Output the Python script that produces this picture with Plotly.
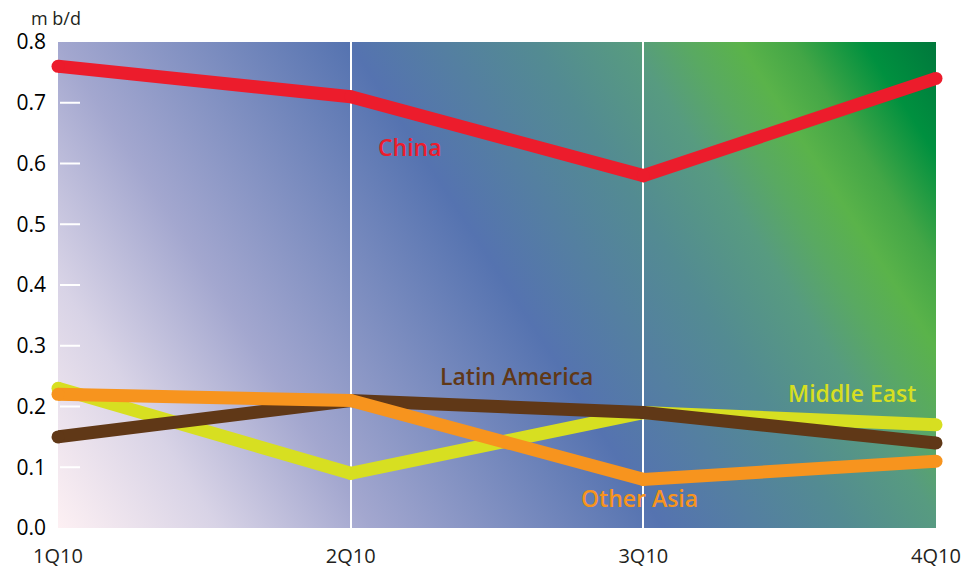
import base64
import plotly.graph_objects as go

# Quarterly volumes, million barrels per day
quarters = ["1Q10", "2Q10", "3Q10", "4Q10"]
china = [0.76, 0.71, 0.58, 0.74]
latin_america = [0.15, 0.21, 0.19, 0.14]
middle_east = [0.23, 0.09, 0.19, 0.17]
other_asia = [0.22, 0.21, 0.08, 0.11]
y_ticks = [0.0, 0.1, 0.2, 0.3, 0.4, 0.5, 0.6, 0.7, 0.8]

W, H = 878, 486  # plot area in px

# Diagonal colour wash for the plot background (pink -> blue -> green)
grad_svg = f"""<svg xmlns='http://www.w3.org/2000/svg' width='{W}' height='{H}' viewBox='0 0 {W} {H}' preserveAspectRatio='none'>
<defs><linearGradient id='g' gradientUnits='userSpaceOnUse' x1='-221' y1='142.5' x2='619' y2='-399.5'>
<stop offset='0' stop-color='#fdf0f3'/>
<stop offset='0.134' stop-color='#d8d3e6'/>
<stop offset='0.263' stop-color='#a3a7cf'/>
<stop offset='0.508' stop-color='#5573b0'/>
<stop offset='0.663' stop-color='#538b92'/>
<stop offset='0.743' stop-color='#579b80'/>
<stop offset='0.79' stop-color='#59a962'/>
<stop offset='0.835' stop-color='#5ab34a'/>
<stop offset='0.88' stop-color='#43a646'/>
<stop offset='0.94' stop-color='#00903f'/>
<stop offset='1' stop-color='#00783c'/>
</linearGradient></defs>
<rect x='0' y='0' width='{W}' height='{H}' fill='url(#g)'/></svg>"""
grad_uri = "data:image/svg+xml;base64," + base64.b64encode(grad_svg.encode()).decode()

series = [
    ("Middle East", middle_east, "#d7df21"),
    ("Latin America", latin_america, "#603817"),
    ("Other Asia", other_asia, "#f7941e"),
    ("China", china, "#ec1c2c"),
]

fig = go.Figure()
for name, vals, col in series:
    fig.add_trace(go.Scatter(
        x=list(range(len(quarters))), y=vals, name=name,
        mode="lines+markers", cliponaxis=False,
        line=dict(color=col, width=13),
        marker=dict(color=col, size=13),
        hoverinfo="skip", showlegend=False,
    ))

labels = [
    ("China", 1.203, 0.627, "#ec1c2c"),
    ("Latin America", 1.568, 0.250, "#603817"),
    ("Middle East", 2.713, 0.222, "#d7df21"),
    ("Other Asia", 1.988, 0.049, "#f7941e"),
]
for txt, x, y, col in labels:
    fig.add_annotation(x=x, y=y, text=txt, showarrow=False,
                       font=dict(family="Open Sans", size=23, weight=600, color=col))

fig.add_annotation(xref="paper", yref="paper", x=-0.033, y=1.0, yshift=24,
                   yanchor="middle", xanchor="left",
                   text="m b/d", showarrow=False,
                   font=dict(family="Open Sans", size=18, color="#231f20"))

# short white tick marks along the inside of the left edge
for v in y_ticks[1:-1]:
    fig.add_shape(type="line", xref="x domain", yref="y",
                  x0=2 / W, x1=22 / W, y0=v, y1=v,
                  line=dict(color="white", width=2), layer="above")

fig.update_layout(
    width=966, height=574,
    margin=dict(l=58, r=30, t=42, b=46, autoexpand=False),
    paper_bgcolor="white", plot_bgcolor="rgba(0,0,0,0)",
    images=[dict(source=grad_uri, xref="paper", yref="paper", x=0, y=1,
                 sizex=1, sizey=1, sizing="stretch", layer="below",
                 xanchor="left", yanchor="top")],
    xaxis=dict(range=[0, 3], tickvals=list(range(len(quarters))), ticktext=quarters,
               showgrid=True, gridcolor="white", gridwidth=1.5, zeroline=False,
               showline=False, ticks="", ticklabelstandoff=14, automargin=False,
               tickfont=dict(family="Open Sans", size=20, color="#231f20")),
    yaxis=dict(range=[0, 0.8], tickvals=y_ticks, ticktext=[f"{v:.1f}" for v in y_ticks],
               showgrid=False, zeroline=False, showline=False, ticks="",
               ticklabelstandoff=11, automargin=False,
               tickfont=dict(family="Open Sans", size=21, color="#000000")),
)

fig.write_html("out.html")
